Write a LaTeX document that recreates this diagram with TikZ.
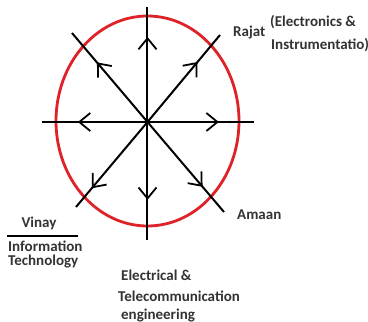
\documentclass[tikz,border=0pt]{standalone}
\usepackage{fontspec}
\setmainfont{Carlito}
\usetikzlibrary{arrows.meta,decorations.markings}
\definecolor{ringred}{RGB}{222,34,40}
\tikzset{
  spoke/.style={line width=2pt, black, line cap=butt,
    postaction={decorate, decoration={markings,
      mark=at position #1 with {\arrow[line width=1.8pt]{Straight Barb[length=11pt,width=18pt]}}}}},
  lbl/.style={inner sep=0pt, font=\fontsize{15}{20}\selectfont\bfseries, text=black!80},
}
\begin{document}
\begin{tikzpicture}[x=1pt,y=-1pt]
\useasboundingbox (0,0) rectangle (368,322);
\fill[white] (0,0) rectangle (368,322);
% ring
\draw[ringred, line width=2.8pt] (147.5,121) ellipse [x radius=91.5, y radius=105];
% center and ends
\coordinate (c) at (147.5,122);
\coordinate (n) at (147.5,7);
\coordinate (s) at (147.5,240);
\coordinate (w) at (42,122);
\coordinate (e) at (254,122);
\coordinate (nw) at (72,33);
\coordinate (ne) at (220,35);
\coordinate (sw) at (76,207);
\coordinate (se) at (224,212);
\draw[spoke=0.74] (c) -- (n);
\draw[spoke=0.66] (c) -- (s);
\draw[spoke=0.66] (c) -- (w);
\draw[spoke=0.67] (c) -- (e);
\draw[spoke=0.67] (c) -- (nw);
\draw[spoke=0.69] (c) -- (ne);
\draw[spoke=0.78] (c) -- (sw);
\draw[spoke=0.72] (c) -- (se);
% labels
\node[lbl, anchor=west] (rajat) at (233,33) {Rajat};
\node[lbl, anchor=west] (ei1) at (270,22) {(Electronics \&};
\node[lbl, anchor=west] (ei2) at (271,45) {Instrumentatio)};
\node[lbl, anchor=west] (amaan) at (237,215) {Amaan};
\node[lbl] (vinay) at (39,223) {Vinay};
\node[lbl, anchor=west] (it1) at (8,246) {Information};
\node[lbl, anchor=west] (it2) at (8,262) {Technology};
\coordinate (barl) at (7,236);
\coordinate (barr) at (78,236);
\draw[line width=1.5pt] (barl) -- (barr);
\node[lbl, anchor=west] (et1) at (121,275) {Electrical \&};
\node[lbl, anchor=west] (et2) at (118,296) {Telecommunication};
\node[lbl, anchor=base west] (et3) at (121,319) {engineering};
\end{tikzpicture}
\end{document}
